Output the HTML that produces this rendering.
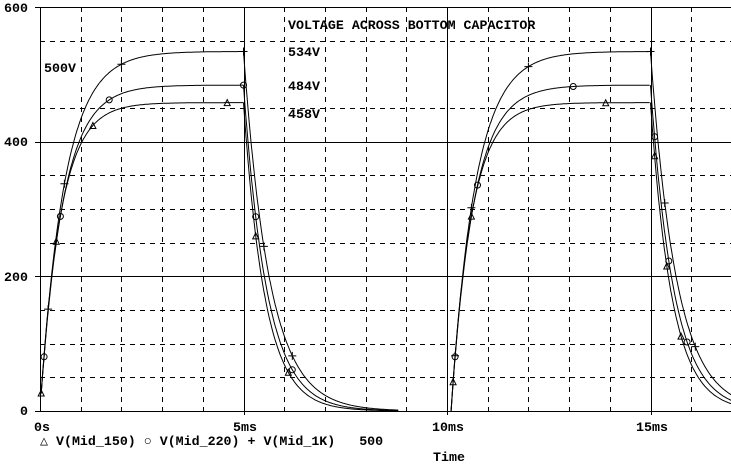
<!DOCTYPE html>
<html><head><meta charset="utf-8"><style>
body{margin:0;background:#fff}
svg{display:block}
text{font-family:"Liberation Mono",monospace;font-size:13.3px;font-weight:bold;fill:#000;white-space:pre}
</style></head><body>
<svg id="s" width="731" height="470" viewBox="0 0 731 470" xmlns="http://www.w3.org/2000/svg">
<g id="grid" stroke="#000" stroke-width="1" fill="none"></g>
<g id="curves" stroke="#000" stroke-width="1" fill="none"></g>
<g id="marks" stroke="#000" stroke-width="1" fill="none"></g>
<text x="4" y="12">600</text>
<text x="4" y="146">400</text>
<text x="4" y="281">200</text>
<text x="20" y="415">0</text>
<text x="34" y="431">0s</text>
<text x="233" y="431">5ms</text>
<text x="432" y="431">10ms</text>
<text x="636" y="431">15ms</text>
<text x="40" y="445" xml:space="preserve">△ V(Mid_150) ○ V(Mid_220) + V(Mid_1K)   500</text>
<text x="433" y="461">Time</text>
<text x="288" y="29">VOLTAGE ACROSS BOTTOM CAPACITOR</text>
<text x="288" y="56">534V</text>
<text x="288" y="90">484V</text>
<text x="288" y="118">458V</text>
<text x="44" y="72">500V</text>
</svg>
<script>
const X=t=>40+t*40.7, Y=v=>411-v*(404/600);
let g='';
g+=`<line x1="40" y1="7.5" x2="731" y2="7.5"/><line x1="40" y1="411.5" x2="731" y2="411.5"/><line x1="40.5" y1="7" x2="40.5" y2="412"/>`;
g+=`<line x1="35" y1="7.5" x2="40" y2="7.5"/><line x1="35" y1="142.5" x2="40" y2="142.5"/><line x1="35" y1="276.5" x2="40" y2="276.5"/><line x1="35" y1="411.5" x2="40" y2="411.5"/>`;
for(let t=1;t<=17;t++){const x=Math.round(X(t))+.5;
 if(t%5==0) g+=`<line x1="${x}" y1="7" x2="${x}" y2="415"/>`;
 else g+=`<line x1="${x}" y1="7" x2="${x}" y2="411" stroke-dasharray="5,5"/>`;}
[550,450,350,300,250,150,100,50].forEach(v=>{const y=Math.round(Y(v))+.5;g+=`<line x1="40" y1="${y}" x2="731" y2="${y}" stroke-dasharray="5,5"/>`;});
[400,200].forEach(v=>{const y=Math.round(Y(v))+.5;g+=`<line x1="40" y1="${y}" x2="731" y2="${y}"/>`;});
document.getElementById('grid').innerHTML=g;
const S=[{F:458,tc:.5,td:.53,m:'t'},{F:484,tc:.55,td:.58,m:'o'},{F:534,tc:.6,td:.64,m:'p'}];
function val(s,t){
 if(t<0) return 0;
 if(t<5) return s.F*(1-Math.exp(-t/s.tc));
 const v5=s.F*(1-Math.exp(-5/s.tc));
 if(t<10.1) return v5*Math.exp(-(t-5)/s.td);
 if(t<15) return s.F*(1-Math.exp(-(t-10.1)/s.tc));
 const v15=s.F*(1-Math.exp(-4.9/s.tc));
 return v15*Math.exp(-(t-15)/s.td);
}
let c='',m='';
function mk(type,x,y){
 x=+x;y=+y;
 if(type=='t') return `<path d="M${x-3} ${y+3}L${x} ${y-3}L${x+3} ${y+3}Z"/>`;
 if(type=='o') return `<circle cx="${x}" cy="${y}" r="3"/>`;
 return `<path d="M${x-4} ${y}H${x+4}M${x} ${y-4}V${y+4}"/>`;
}
S.forEach(s=>{
 let d='';
 const seg=(a,b)=>{let p='';for(let t=a;t<=b+1e-9;t+=0.02){p+=(p?'L':'M')+X(t).toFixed(1)+' '+Y(val(s,t)).toFixed(1);}return p;};
 d+=seg(0.03,4.999)+'L'+X(5)+' '+Y(val(s,5));
 d+=seg(5,8.8);
 d+='M'+X(10.1)+' 411'+seg(10.1,14.999).replace('M','L')+seg(15,17.1);
 c+=`<path d="${d}"/>`;
 const pts={t:[0.03,0.4,1.3,4.6,5.3,6.1,10.15,10.6,13.9,15.1,15.4,15.75],o:[0.1,0.5,1.7,5,5.3,6.2,10.2,10.75,13.1,15.1,15.45,15.9],p:[0.2,0.6,2,5,5.5,6.2,10.2,10.6,12,15,15.35,16.1]}[s.m];
 pts.forEach(t=>{m+=mk(s.m,X(t).toFixed(1),Y(val(s,t)).toFixed(1));});
});
document.getElementById('curves').innerHTML=c;
document.getElementById('marks').innerHTML=m;
</script>
</body></html>
